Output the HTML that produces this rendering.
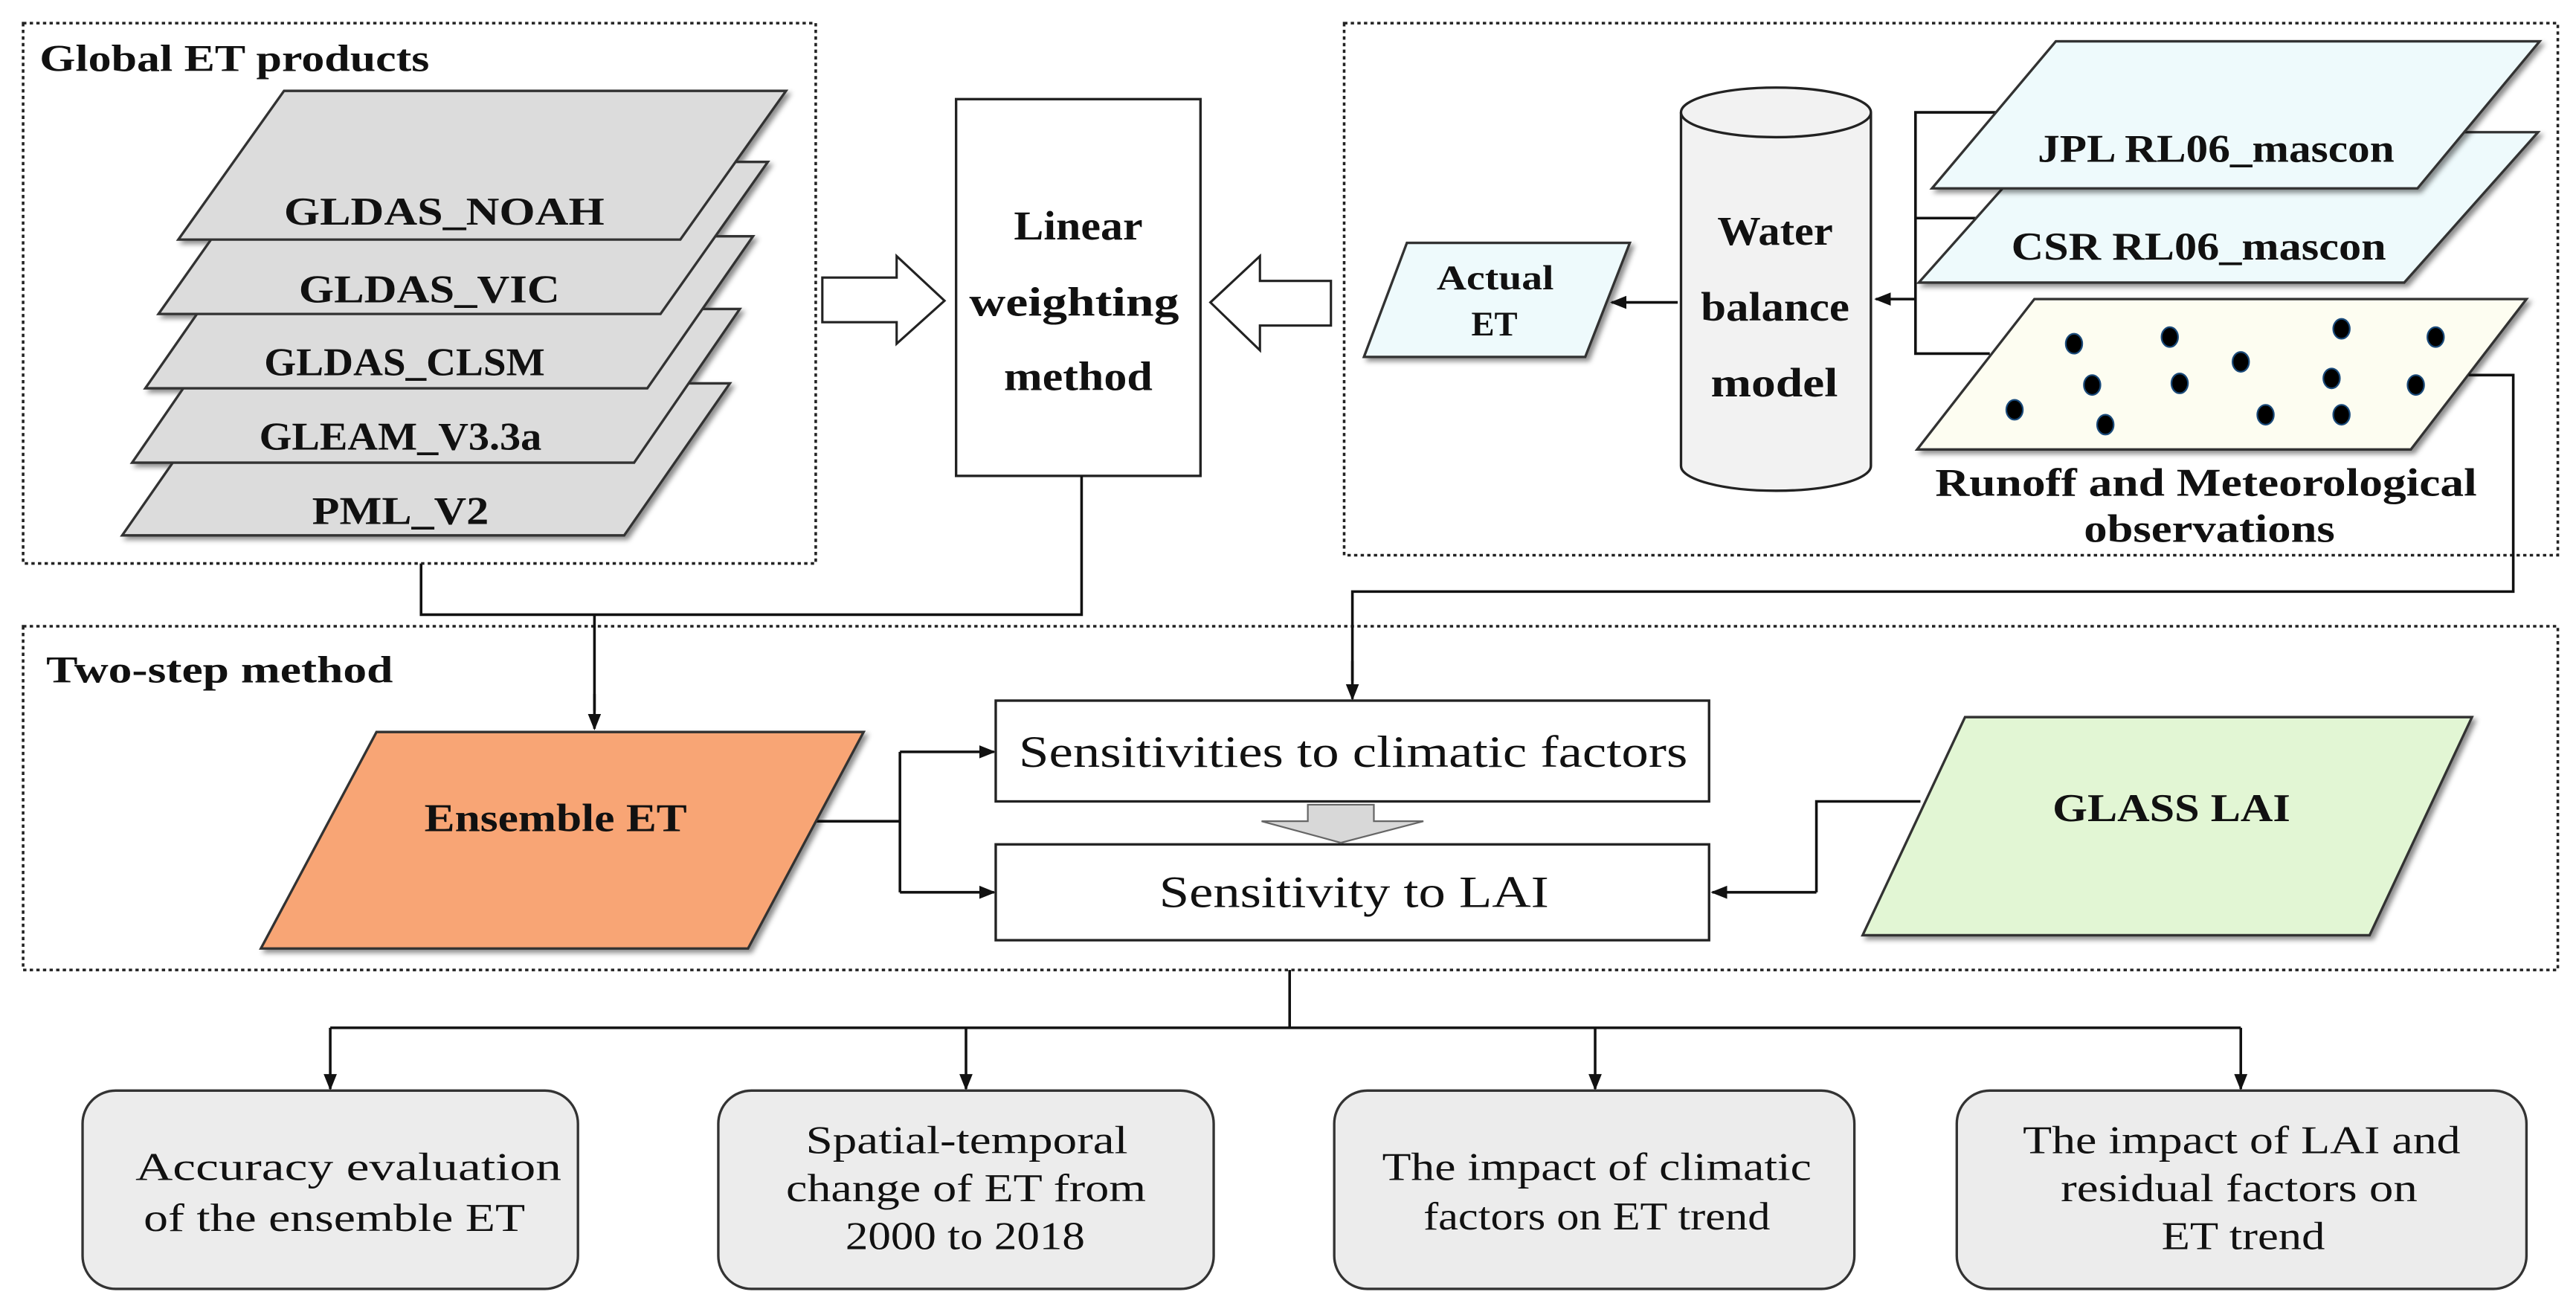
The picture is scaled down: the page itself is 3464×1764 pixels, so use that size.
<!DOCTYPE html>
<html><head><meta charset="utf-8"><style>
html,body{margin:0;padding:0;background:#fff}
svg{display:block}
text{font-family:"Liberation Serif",serif;fill:#111}
.b{font-weight:bold}
</style></head><body>
<svg width="3464" height="1764" viewBox="0 0 1560 794" preserveAspectRatio="none" xmlns="http://www.w3.org/2000/svg">
<defs>
<marker id="ar" markerWidth="10" markerHeight="10" refX="9" refY="5" orient="auto" markerUnits="userSpaceOnUse"><path d="M0,1 L10,5 L0,9 Z" fill="#111"/></marker>
<filter id="sh" x="-10%" y="-10%" width="130%" height="130%"><feDropShadow dx="2" dy="2" stdDeviation="1.5" flood-color="#000" flood-opacity="0.45"/></filter>
</defs>
<g fill="none" stroke="#222" stroke-width="1.6" stroke-dasharray="2,2">
<rect x="14" y="14" width="480" height="327"/>
<rect x="814" y="14" width="735" height="322"/>
<rect x="14" y="379" width="1535" height="208"/>
</g>
<text x="24" y="43" class="b" font-size="23" textLength="236" lengthAdjust="spacingAndGlyphs">Global ET products</text>
<text x="28" y="413" class="b" font-size="23" textLength="210" lengthAdjust="spacingAndGlyphs">Two-step method</text>
<g fill="#dcdcdc" stroke="#333" stroke-width="1.5" filter="url(#sh)">
<polygon points="74,324 378,324 442,232 138,232"/>
<polygon points="80,280 384,280 448,187 144,187"/>
<polygon points="88,235 392,235 456,143 152,143"/>
<polygon points="96,190 400,190 465,98 161,98"/>
<polygon points="108,145 412,145 476,55 172,55"/>
</g>
<g class="b" font-size="24">
<text x="172" y="136" textLength="194" lengthAdjust="spacingAndGlyphs">GLDAS_NOAH</text>
<text x="181" y="183" textLength="158" lengthAdjust="spacingAndGlyphs">GLDAS_VIC</text>
<text x="160" y="227" textLength="170" lengthAdjust="spacingAndGlyphs">GLDAS_CLSM</text>
<text x="157" y="272" textLength="171" lengthAdjust="spacingAndGlyphs">GLEAM_V3.3a</text>
<text x="189" y="317" textLength="107" lengthAdjust="spacingAndGlyphs">PML_V2</text>
</g>
<path d="M498,168 H543 V155 L572,182 L543,208 V195 H498 Z" fill="#fff" stroke="#222" stroke-width="1.4"/>
<path d="M806,170 H763 V155 L733,183 L763,212 V197 H806 Z" fill="#fff" stroke="#222" stroke-width="1.4"/>
<rect x="579" y="60" width="148" height="228" fill="#fff" stroke="#222" stroke-width="1.5"/>
<g class="b" font-size="25">
<text x="614" y="145" textLength="78" lengthAdjust="spacingAndGlyphs">Linear</text>
<text x="587" y="191" textLength="127" lengthAdjust="spacingAndGlyphs">weighting</text>
<text x="608" y="236" textLength="90" lengthAdjust="spacingAndGlyphs">method</text>
</g>
<path d="M1018,68 V282 A57.5,15 0 0 0 1133,282 V68" fill="#f2f2f2" stroke="#222" stroke-width="1.5"/>
<ellipse cx="1075.5" cy="68" rx="57.5" ry="15" fill="#f2f2f2" stroke="#222" stroke-width="1.5"/>
<g class="b" font-size="25">
<text x="1040" y="148" textLength="70" lengthAdjust="spacingAndGlyphs">Water</text>
<text x="1030" y="194" textLength="90" lengthAdjust="spacingAndGlyphs">balance</text>
<text x="1036" y="240" textLength="77" lengthAdjust="spacingAndGlyphs">model</text>
</g>
<polygon points="826,216 960,216 987,147 852,147" fill="#eefafc" stroke="#333" stroke-width="1.5" filter="url(#sh)"/>
<g class="b" font-size="21"><text x="870" y="175" textLength="71" lengthAdjust="spacingAndGlyphs">Actual</text><text x="891" y="203" textLength="28" lengthAdjust="spacingAndGlyphs">ET</text></g>
<line x1="1016" y1="183" x2="976" y2="183" stroke="#111" stroke-width="1.6" marker-end="url(#ar)"/>
<g stroke="#111" stroke-width="1.6" fill="none">
<path d="M1215,68 H1160 V214 H1205"/>
<path d="M1160,132 H1200"/>
</g>
<line x1="1160" y1="181" x2="1136" y2="181" stroke="#111" stroke-width="1.6" marker-end="url(#ar)"/>
<polygon points="1162,171 1456,171 1537,80 1243,80" fill="#eefafc" stroke="#333" stroke-width="1.5" filter="url(#sh)"/>
<polygon points="1170,114 1464,114 1538,25 1245,25" fill="#eefafc" stroke="#333" stroke-width="1.5" filter="url(#sh)"/>
<polygon points="1161,272 1460,272 1530,181 1232,181" fill="#fdfdf1" stroke="#333" stroke-width="1.5" filter="url(#sh)"/>
<g class="b" font-size="24">
<text x="1234" y="98" textLength="216" lengthAdjust="spacingAndGlyphs">JPL RL06_mascon</text>
<text x="1218" y="157" textLength="227" lengthAdjust="spacingAndGlyphs">CSR RL06_mascon</text>
<text x="1172" y="300" textLength="328" lengthAdjust="spacingAndGlyphs">Runoff and Meteorological</text>
<text x="1262" y="328" textLength="152" lengthAdjust="spacingAndGlyphs">observations</text>
</g>
<g fill="#000" stroke="#1a4a7a" stroke-width="1">
<ellipse cx="1256" cy="208" rx="5" ry="6"/><ellipse cx="1314" cy="204" rx="5" ry="6"/><ellipse cx="1357" cy="219" rx="5" ry="6"/><ellipse cx="1418" cy="199" rx="5" ry="6"/><ellipse cx="1475" cy="204" rx="5" ry="6"/><ellipse cx="1267" cy="233" rx="5" ry="6"/><ellipse cx="1320" cy="232" rx="5" ry="6"/><ellipse cx="1412" cy="229" rx="5" ry="6"/><ellipse cx="1463" cy="233" rx="5" ry="6"/><ellipse cx="1220" cy="248" rx="5" ry="6"/><ellipse cx="1275" cy="257" rx="5" ry="6"/><ellipse cx="1372" cy="251" rx="5" ry="6"/><ellipse cx="1418" cy="251" rx="5" ry="6"/>
</g>
<g stroke="#111" stroke-width="1.6" fill="none">
<path d="M1495,227 H1522 V358 H819 V412"/>
<path d="M255,341 V372 H655 V288"/>
<path d="M360,372 V430"/>
<path d="M489,497 H545 M545,455 V540"/>
<path d="M1163,485 H1100 V540"/>
<path d="M781,587 V622 M200,622 H1357"/>
</g>
<line x1="819" y1="400" x2="819" y2="423" stroke="#111" stroke-width="1.6" marker-end="url(#ar)"/>
<line x1="360" y1="420" x2="360" y2="441" stroke="#111" stroke-width="1.6" marker-end="url(#ar)"/>
<line x1="545" y1="455" x2="602" y2="455" stroke="#111" stroke-width="1.6" marker-end="url(#ar)"/>
<line x1="545" y1="540" x2="602" y2="540" stroke="#111" stroke-width="1.6" marker-end="url(#ar)"/>
<line x1="1100" y1="540" x2="1037" y2="540" stroke="#111" stroke-width="1.6" marker-end="url(#ar)"/>
<g stroke="#111" stroke-width="1.6">
<line x1="200" y1="622" x2="200" y2="659" marker-end="url(#ar)"/>
<line x1="585" y1="622" x2="585" y2="659" marker-end="url(#ar)"/>
<line x1="966" y1="622" x2="966" y2="659" marker-end="url(#ar)"/>
<line x1="1357" y1="622" x2="1357" y2="659" marker-end="url(#ar)"/>
</g>
<polygon points="228,443 523,443 453,574 158,574" fill="#f8a574" stroke="#333" stroke-width="1.5" filter="url(#sh)"/>
<text x="257" y="503" class="b" font-size="24" textLength="159" lengthAdjust="spacingAndGlyphs">Ensemble ET</text>
<polygon points="1190,434 1497,434 1435,566 1128,566" fill="#e2f6d4" stroke="#333" stroke-width="1.5" filter="url(#sh)"/>
<text x="1243" y="497" class="b" font-size="24" textLength="144" lengthAdjust="spacingAndGlyphs">GLASS LAI</text>
<rect x="603" y="424" width="432" height="61" fill="#fff" stroke="#222" stroke-width="1.5"/>
<rect x="603" y="511" width="432" height="58" fill="#fff" stroke="#222" stroke-width="1.5"/>
<text x="617" y="464" font-size="27" textLength="405" lengthAdjust="spacingAndGlyphs">Sensitivities to climatic factors</text>
<text x="702" y="549" font-size="27" textLength="236" lengthAdjust="spacingAndGlyphs">Sensitivity to LAI</text>
<path d="M792,487 H832 V497 H862 L812,510 L764,497 H792 Z" fill="#d8d8d8" stroke="#666" stroke-width="1"/>
<g fill="#ececec" stroke="#333" stroke-width="1.5">
<rect x="50" y="660" width="300" height="120" rx="20"/>
<rect x="435" y="660" width="300" height="120" rx="20"/>
<rect x="808" y="660" width="315" height="120" rx="20"/>
<rect x="1185" y="660" width="345" height="120" rx="20"/>
</g>
<g font-size="24" lengthAdjust="spacingAndGlyphs">
<text x="82" y="714" textLength="258" lengthAdjust="spacingAndGlyphs">Accuracy  evaluation</text>
<text x="87" y="745" textLength="231" lengthAdjust="spacingAndGlyphs">of the ensemble ET</text>
<text x="488" y="698" textLength="195" lengthAdjust="spacingAndGlyphs">Spatial-temporal</text>
<text x="476" y="727" textLength="218" lengthAdjust="spacingAndGlyphs">change of ET from</text>
<text x="512" y="756" textLength="145" lengthAdjust="spacingAndGlyphs">2000 to 2018</text>
<text x="837" y="714" textLength="260" lengthAdjust="spacingAndGlyphs">The impact of climatic</text>
<text x="862" y="744" textLength="210" lengthAdjust="spacingAndGlyphs">factors on ET trend</text>
<text x="1225" y="698" textLength="265" lengthAdjust="spacingAndGlyphs">The impact of LAI and</text>
<text x="1248" y="727" textLength="216" lengthAdjust="spacingAndGlyphs">residual factors on</text>
<text x="1309" y="756" textLength="99" lengthAdjust="spacingAndGlyphs">ET trend</text>
</g>
</svg>
</body></html>
